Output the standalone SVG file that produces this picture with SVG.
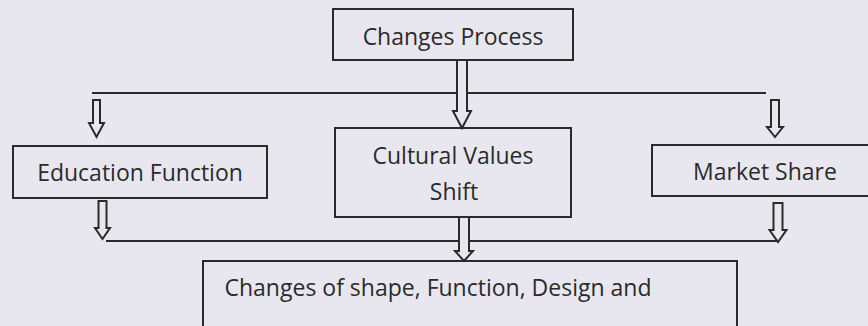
<svg xmlns="http://www.w3.org/2000/svg" width="868" height="326" viewBox="0 0 868 326">
  <defs>
    <style>
      .bg { fill: #e8e7ef; }
      .box { fill: #e8e7ef; stroke: #2a2a2a; stroke-width: 2; }
      .lbl { font-family: "Open Sans", "Noto Sans", "DejaVu Sans", sans-serif; font-size: 23px; fill: #2b2b2b; text-anchor: middle; }
      .line { fill: none; stroke: #2a2a2a; stroke-width: 2; }
      .arrow { fill: #e8e7ef; stroke: #2a2a2a; stroke-width: 2; stroke-linejoin: miter; }
    </style>
  </defs>

  <rect class="bg" x="0" y="0" width="868" height="326"/>

  <!-- nodes -->
  <g id="changes-process">
    <rect class="box" x="333" y="9" width="240" height="51"/>
    <text class="lbl" x="453" y="45">Changes Process</text>
  </g>

  <g id="education-function">
    <rect class="box" x="13" y="146" width="254" height="52"/>
    <text class="lbl" x="140" y="181">Education Function</text>
  </g>

  <g id="cultural-values-shift">
    <rect class="box" x="335" y="128" width="236" height="89"/>
    <text class="lbl" x="453" y="164">Cultural Values</text>
    <text class="lbl" x="454" y="200">Shift</text>
  </g>

  <g id="market-share">
    <rect class="box" x="652" y="145" width="230" height="51"/>
    <text class="lbl" x="765" y="180">Market Share</text>
  </g>

  <g id="changes-of-shape">
    <rect class="box" x="203" y="261" width="534" height="80"/>
    <text class="lbl" x="438" y="296">Changes of shape, Function, Design and</text>
  </g>

  <!-- connectors: distribution bars and hollow block arrows -->
  <g id="connectors">
    <line class="line" x1="92" y1="93" x2="766" y2="93"/>
    <line class="line" x1="106" y1="241" x2="778" y2="241"/>

    <!-- Changes Process -> Cultural Values Shift -->
    <path class="arrow" d="M457,60 V111 H453 L462,128 L471,111 H467 V60 Z"/>
    <!-- bar -> Education Function -->
    <path class="arrow" d="M93,100 V123 H89 L96.5,137 L104,123 H100 V100 Z"/>
    <!-- bar -> Market Share -->
    <path class="arrow" d="M771,100 V127 H767 L775,137 L783,127 H779 V100 Z"/>
    <!-- Education Function -> lower bar -->
    <path class="arrow" d="M98.5,201 V228 H95 L102.5,239 L110,228 H106.5 V201 Z"/>
    <!-- Market Share -> lower bar -->
    <path class="arrow" d="M773.5,203 V230 H769.5 L778,242 L786.5,230 H782.5 V203 Z"/>
    <!-- Cultural Values Shift -> Changes of shape -->
    <path class="arrow" d="M459,217 V251 H455 L464,261 L473,251 H469 V217 Z"/>
  </g>
</svg>
